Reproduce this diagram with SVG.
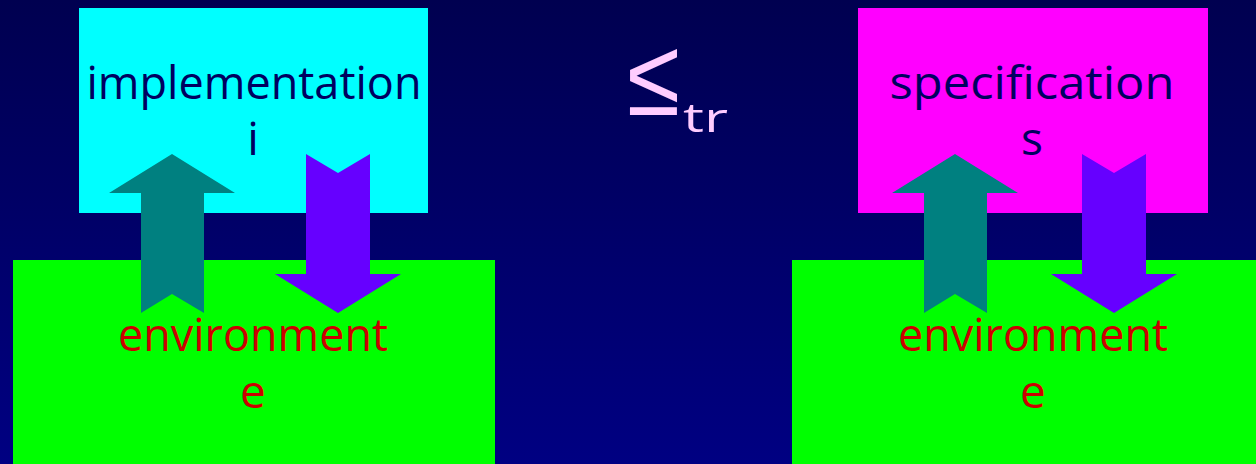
<svg xmlns="http://www.w3.org/2000/svg" width="1256" height="464" viewBox="0 0 1256 464">
<defs>
<linearGradient id="bg" x1="0" y1="0" x2="0" y2="1">
<stop offset="0" stop-color="#000050"/>
<stop offset="1" stop-color="#000082"/>
</linearGradient>
</defs>
<style>
.lbl{font-family:"Open Sans","DejaVu Sans",sans-serif;font-size:46px;text-anchor:middle}
.top{fill:#000060}
.env{fill:#CC0000}
.up{fill:#008080}
.down{fill:#6600FF}
.rel{fill:#FFCCFF}
</style>
<rect width="1256" height="464" fill="url(#bg)"/>
<g id="impl">
<rect x="79" y="8" width="349" height="205" fill="#00FFFF"/>
<text class="lbl top" x="254" y="99" textLength="335" lengthAdjust="spacingAndGlyphs">implementation</text>
<text class="lbl top" x="253" y="155">i</text>
</g>
<g id="env1">
<rect x="13" y="260" width="482" height="204" fill="#00FF00"/>
<text class="lbl env" x="253" y="351" textLength="270" lengthAdjust="spacingAndGlyphs">environment</text>
<text class="lbl env" x="253" y="408">e</text>
</g>
<g id="spec">
<rect x="858" y="8" width="350" height="205" fill="#FF00FF"/>
<text class="lbl top" x="1032" y="99" textLength="285" lengthAdjust="spacingAndGlyphs">specification</text>
<text class="lbl top" x="1032" y="155">s</text>
</g>
<g id="env2">
<rect x="792" y="260" width="464" height="204" fill="#00FF00"/>
<text class="lbl env" x="1033" y="351" textLength="270" lengthAdjust="spacingAndGlyphs">environment</text>
<text class="lbl env" x="1033" y="408">e</text>
</g>
<g id="relation">
<text class="rel" x="627" y="115" font-size="110" style="font-family:'Liberation Sans',sans-serif" textLength="53" lengthAdjust="spacingAndGlyphs">≤</text>
<text class="rel" x="683" y="132" font-size="40" style="font-family:'Open Sans',sans-serif" textLength="45" lengthAdjust="spacingAndGlyphs">tr</text>
</g>
<g id="connectors">
<polygon class="up" points="172,154 235,193 204,193 204,313 172,294 141,313 141,193 109,193"/>
<polygon class="down" points="306,154 338,173 370,154 370,274 401,274 338,313 275,274 306,274"/>
<polygon class="up" points="955,154 1018,193 987,193 987,313 955,294 924,313 924,193 892,193"/>
<polygon class="down" points="1082,154 1114,173 1146,154 1146,274 1177,274 1114,313 1051,274 1082,274"/>
</g>
</svg>
